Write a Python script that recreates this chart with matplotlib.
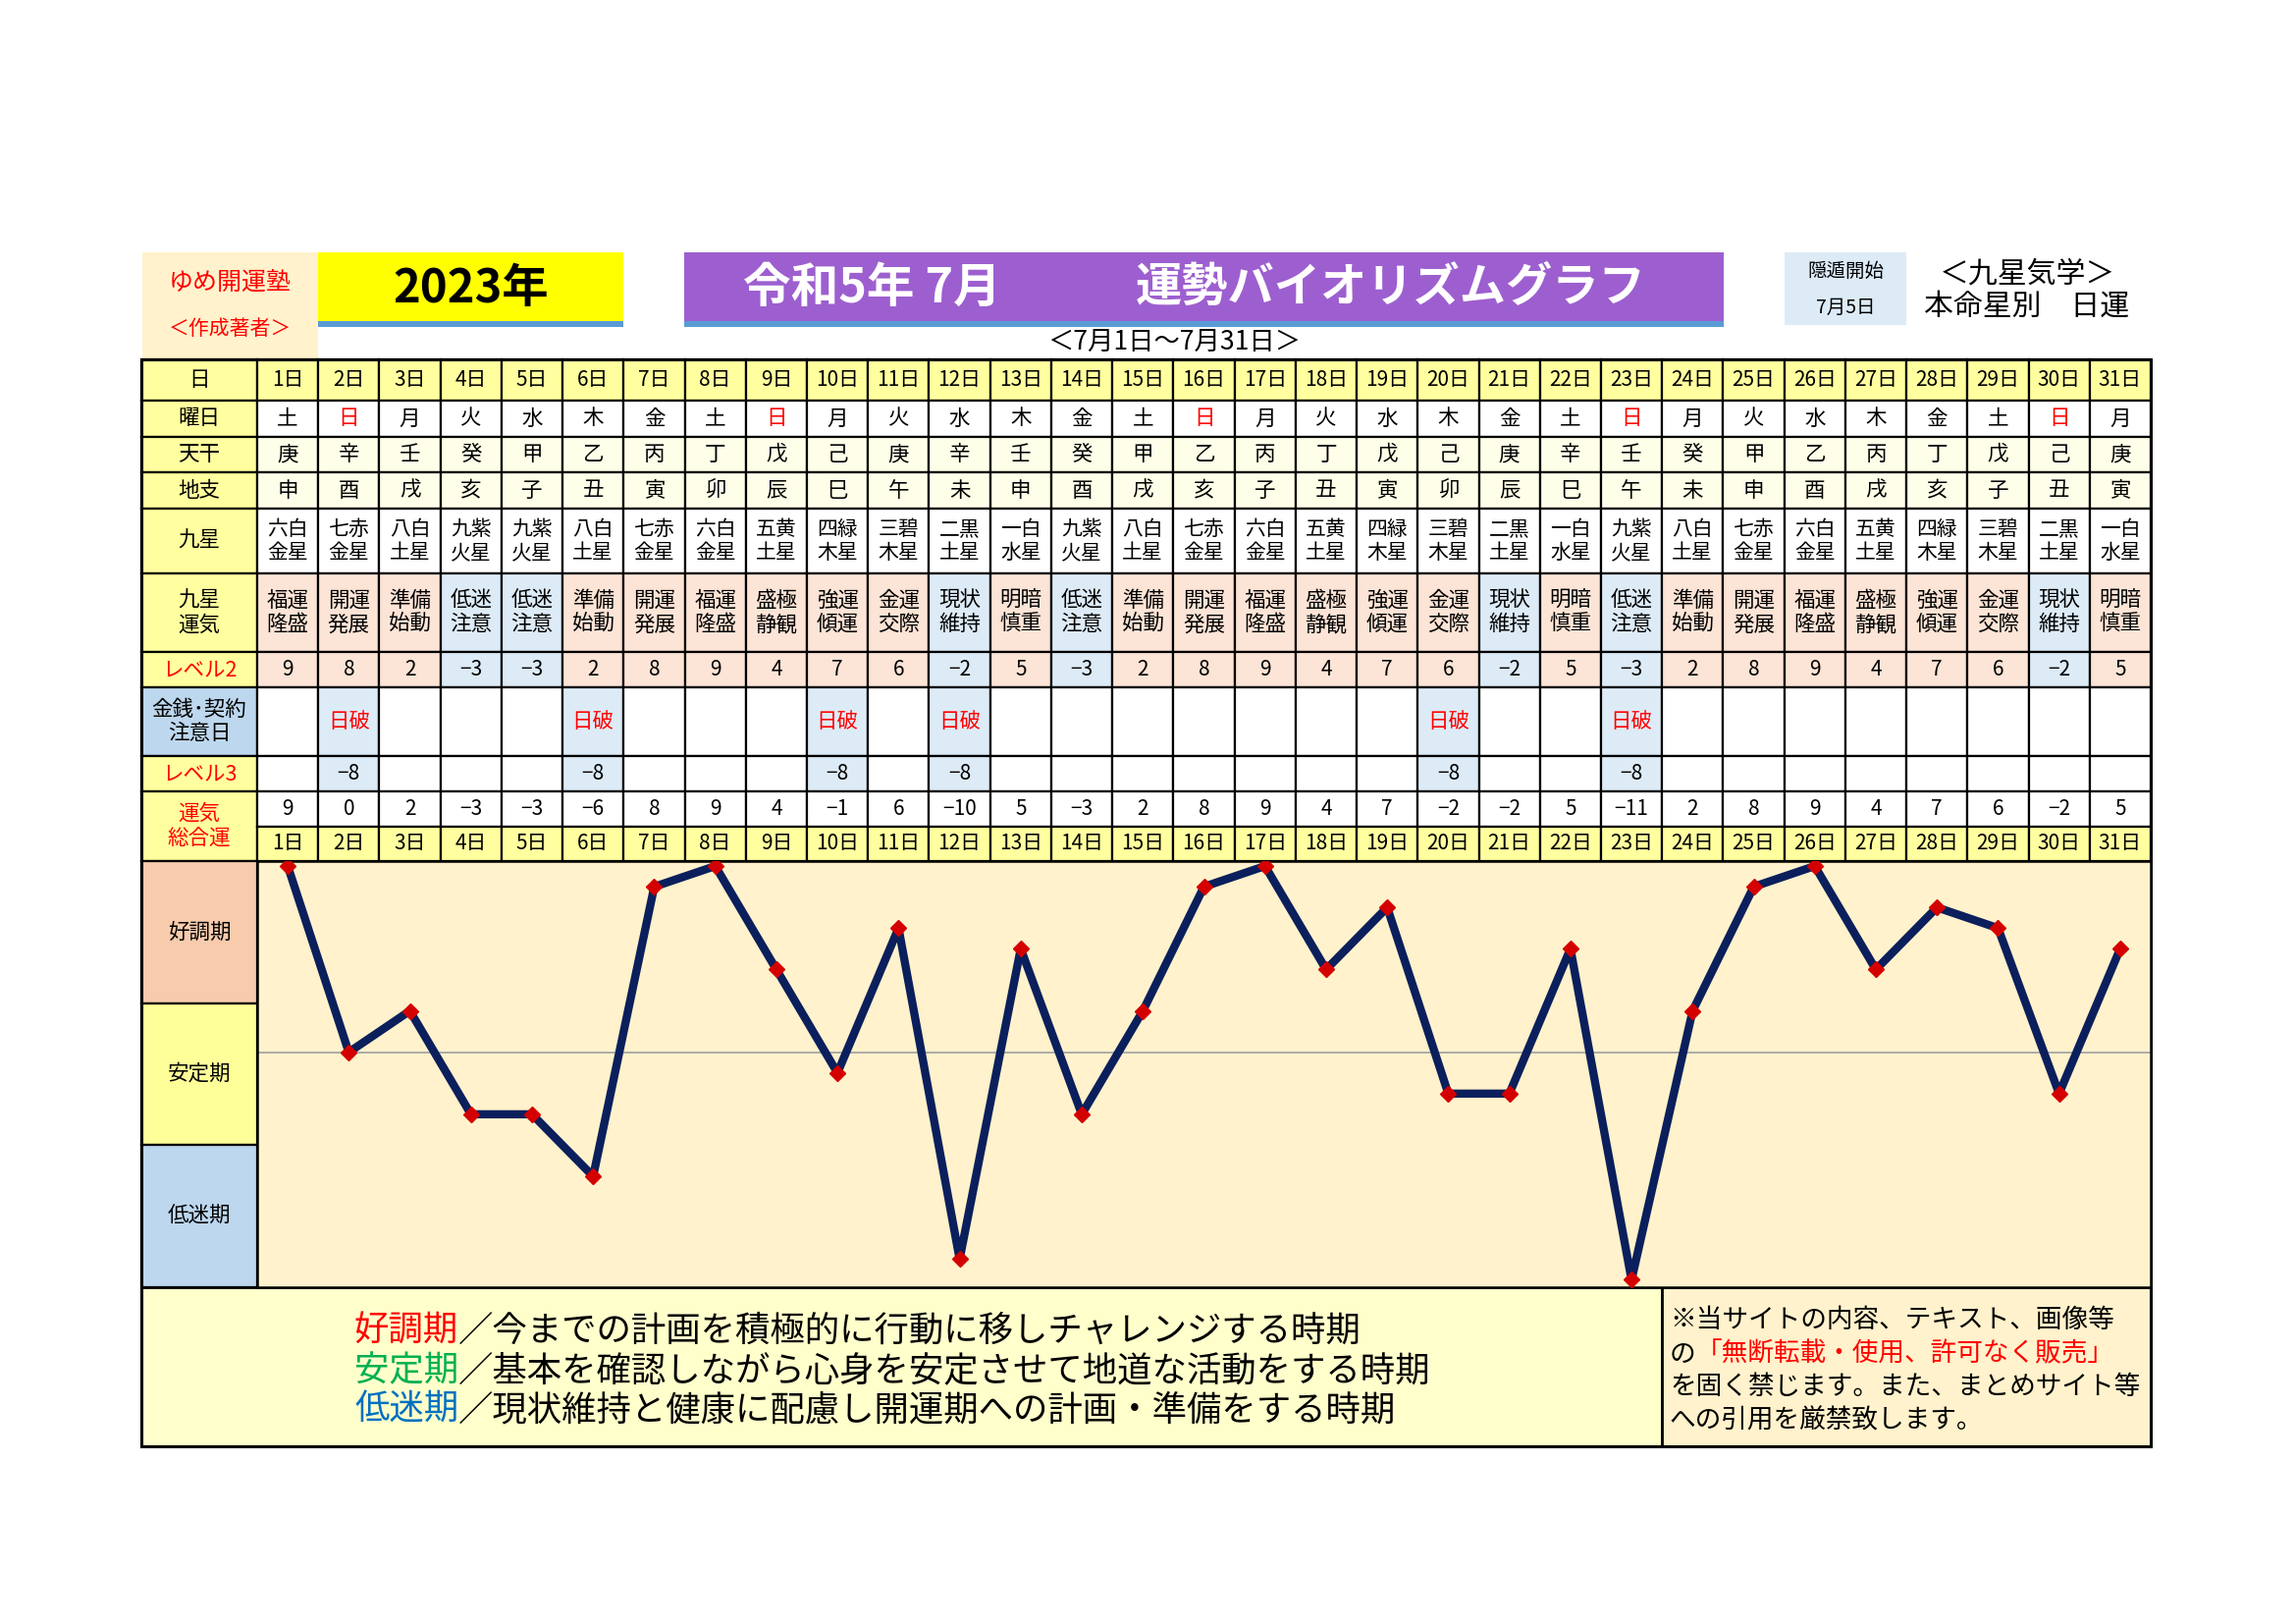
"""
九星気学 運勢バイオリズムグラフ (2023年7月) の再現
"""
import matplotlib
matplotlib.use('Agg')
import matplotlib.pyplot as plt
from matplotlib.patches import Rectangle

plt.rcParams['font.family'] = ['Noto Sans CJK JP', 'DejaVu Sans']

# ---- data ----
days = list(range(1, 32))
day_labels = [f'{d}日' for d in days]
weekdays = ['土', '日', '月', '火', '水', '木', '金', '土', '日', '月',
            '火', '水', '木', '金', '土', '日', '月', '火', '水', '木',
            '金', '土', '日', '月', '火', '水', '木', '金', '土', '日', '月']
tenkan = ['庚', '辛', '壬', '癸', '甲', '乙', '丙', '丁', '戊', '己',
          '庚', '辛', '壬', '癸', '甲', '乙', '丙', '丁', '戊', '己',
          '庚', '辛', '壬', '癸', '甲', '乙', '丙', '丁', '戊', '己', '庚']
chishi = ['申', '酉', '戌', '亥', '子', '丑', '寅', '卯', '辰', '巳',
          '午', '未', '申', '酉', '戌', '亥', '子', '丑', '寅', '卯',
          '辰', '巳', '午', '未', '申', '酉', '戌', '亥', '子', '丑', '寅']
kyusei = ['六白金星', '七赤金星', '八白土星', '九紫火星', '九紫火星', '八白土星',
          '七赤金星', '六白金星', '五黄土星', '四緑木星', '三碧木星', '二黒土星',
          '一白水星', '九紫火星', '八白土星', '七赤金星', '六白金星', '五黄土星',
          '四緑木星', '三碧木星', '二黒土星', '一白水星', '九紫火星', '八白土星',
          '七赤金星', '六白金星', '五黄土星', '四緑木星', '三碧木星', '二黒土星',
          '一白水星']
unki = ['福運隆盛', '開運発展', '準備始動', '低迷注意', '低迷注意', '準備始動',
        '開運発展', '福運隆盛', '盛極静観', '強運傾運', '金運交際', '現状維持',
        '明暗慎重', '低迷注意', '準備始動', '開運発展', '福運隆盛', '盛極静観',
        '強運傾運', '金運交際', '現状維持', '明暗慎重', '低迷注意', '準備始動',
        '開運発展', '福運隆盛', '盛極静観', '強運傾運', '金運交際', '現状維持',
        '明暗慎重']
level2 = [9, 8, 2, -3, -3, 2, 8, 9, 4, 7, 6, -2, 5, -3, 2, 8,
          9, 4, 7, 6, -2, 5, -3, 2, 8, 9, 4, 7, 6, -2, 5]
hiba_days = [2, 6, 10, 12, 20, 23]
level3 = [-8, -8, -8, -8, -8, -8]
total = [9, 0, 2, -3, -3, -6, 8, 9, 4, -1, 6, -10, 5, -3, 2, 8,
         9, 4, 7, -2, -2, 5, -11, 2, 8, 9, 4, 7, 6, -2, 5]
row_labels = ['日', '曜日', '天干', '地支', '九星', '九星\n運気', 'レベル2',
              '金銭･契約\n注意日', 'レベル3']
band_labels = ['好調期', '安定期', '低迷期']
notes = [('好調期', '／今までの計画を積極的に行動に移しチャレンジする時期', '#FF0000'),
         ('安定期', '／基本を確認しながら心身を安定させて地道な活動をする時期', '#00B050'),
         ('低迷期', '／現状維持と健康に配慮し開運期への計画・準備をする時期', '#0070C0')]

# ---- layout (pixels) ----
W, H = 2339, 1654
X0, XL, X1 = 144, 262, 2191
CW = (X1 - XL) / 31
ROWS = [366, 408, 445, 481, 518, 584, 664, 700, 770, 806, 842, 877]
CH_TOP, CH_BOT, BOX_BOT, DIV_X = 877, 1311, 1473, 1693

YEL = '#FFFF9F'
CREAM = '#FFFFE9'
PINK = '#FCE4D6'
LBLUE = '#DDEBF7'
BLUE = '#BDD7EE'

fig = plt.figure(figsize=(W / 100, H / 100), dpi=100)
lay = fig.add_axes([0, 0, 1, 1])
lay.set_xlim(0, W)
lay.set_ylim(H, 0)
lay.axis('off')


def box(x, y, w, h, fc, lw=1.6, ec='black'):
    lay.add_patch(Rectangle((x, y), w, h, facecolor=fc, edgecolor=ec, linewidth=lw))


def txt(x, y, s, fs=15, color='black', **kw):
    lay.text(x, y, s, fontsize=fs, color=color, ha=kw.pop('ha', 'center'),
             va=kw.pop('va', 'center'), **kw)


# ---- header ----
box(145, 257, 179, 109, '#FFF2CC', lw=0)
txt(234, 288, 'ゆめ開運塾', fs=18, color='#FF0000')
txt(234, 335, '＜作成著者＞', fs=15, color='#FF0000')

box(324, 257, 311, 70, '#FFFF00', lw=0)
box(324, 327, 311, 6, '#5B9BD5', lw=0)
txt(480, 294, '2023年', fs=34, weight='bold')

box(697, 257, 1059, 70, '#9D5FCF', lw=0)
box(697, 327, 1059, 6, '#5B9BD5', lw=0)
txt(757, 293, '令和5年 7月', fs=35, color='white', weight='bold', ha='left')
txt(1157, 293, '運勢バイオリズムグラフ', fs=34, color='white', weight='bold', ha='left')
txt(1196, 349, '＜7月1日～7月31日＞', fs=19)

box(1818, 257, 124, 74, LBLUE, lw=0)
txt(1880, 276, '隠遁開始', fs=14)
txt(1880, 313, '7月5日', fs=14)
txt(2065, 279, '＜九星気学＞', fs=21.5)
txt(2065, 312, '本命星別　日運', fs=21.5)

# ---- table ----
for r in range(9):
    y0, y1 = ROWS[r], ROWS[r + 1]
    lab_fc = BLUE if r == 7 else YEL
    box(X0, y0, XL - X0, y1 - y0, lab_fc)
    lab_color = '#FF0000' if r in (6, 8) else 'black'
    txt((X0 + XL) / 2, (y0 + y1) / 2, row_labels[r], fs=15.5, color=lab_color,
        linespacing=1.15)
# 運気総合運 label spans two rows
box(X0, ROWS[9], XL - X0, ROWS[11] - ROWS[9], YEL)
txt((X0 + XL) / 2, (ROWS[9] + ROWS[11]) / 2, '運気\n総合運', fs=15.5,
    color='#FF0000', linespacing=1.15)

for i, d in enumerate(days):
    x0 = XL + i * CW
    cx = x0 + CW / 2
    neg = level2[i] < 0
    hiba = d in hiba_days
    fcs = [YEL, 'white', CREAM, CREAM, 'white',
           LBLUE if neg else PINK, LBLUE if neg else PINK,
           LBLUE if hiba else 'white', LBLUE if hiba else 'white',
           'white', YEL]
    for r in range(11):
        box(x0, ROWS[r], CW, ROWS[r + 1] - ROWS[r], fcs[r])
    mid = [(ROWS[r] + ROWS[r + 1]) / 2 for r in range(11)]
    txt(cx, mid[0], day_labels[i], fs=15)
    txt(cx, mid[1], weekdays[i], fs=15.5, color='#FF0000' if weekdays[i] == '日' else 'black')
    txt(cx, mid[2], tenkan[i], fs=15.5)
    txt(cx, mid[3], chishi[i], fs=15.5)
    txt(cx, mid[4], kyusei[i][:2] + '\n' + kyusei[i][2:], fs=15, linespacing=1.12)
    txt(cx, mid[5], unki[i][:2] + '\n' + unki[i][2:], fs=15.5, linespacing=1.15)
    txt(cx, mid[6], str(level2[i]).replace('-', '−'), fs=15)
    if hiba:
        txt(cx, mid[7], '日破', fs=15.5, color='#FF0000')
        txt(cx, mid[8], str(level3[hiba_days.index(d)]).replace('-', '−'), fs=15)
    txt(cx, mid[9], str(total[i]).replace('-', '−'), fs=15)
    txt(cx, mid[10], day_labels[i], fs=15)

# ---- chart bands ----
band_colors = ['#F8CBAD', '#FFFF99', '#BDD7EE']
bh = (CH_BOT - CH_TOP) / 3
for k, (lab, c) in enumerate(zip(band_labels, band_colors)):
    yb = CH_TOP + k * bh
    box(X0, yb, XL - X0, bh, c)
    txt((X0 + XL) / 2, yb + bh / 2, lab, fs=15.5)

# ---- bottom notes ----
box(X0, CH_BOT, DIV_X - X0, BOX_BOT - CH_BOT, '#FFFFCC', lw=2)
box(DIV_X, CH_BOT, X1 - DIV_X, BOX_BOT - CH_BOT, '#FFF2CC', lw=2)
for k, (head, rest, col) in enumerate(notes):
    t = lay.text(361, 1356 + k * 40, head, fontsize=25.5, color=col, ha='left', va='center')
    lay.annotate(rest, xy=(1, 0), xycoords=t, fontsize=25.5, color='black',
                 ha='left', va='bottom')

LFS = 19.2
legal_y = [1345, 1379, 1413, 1447]
lay.text(1701, legal_y[0], '※当サイトの内容、テキスト、画像等', fontsize=LFS,
         ha='left', va='center')
t = lay.text(1701, legal_y[1], 'の', fontsize=LFS, ha='left', va='center')
lay.annotate('「無断転載・使用、許可なく販売」', xy=(1, 0), xycoords=t, fontsize=LFS,
             color='#FF0000', ha='left', va='bottom')
lay.text(1701, legal_y[2], 'を固く禁じます。また、まとめサイト等', fontsize=LFS,
         ha='left', va='center')
lay.text(1701, legal_y[3], 'への引用を厳禁致します。', fontsize=LFS,
         ha='left', va='center')

# outer frame of the table
lay.add_patch(Rectangle((X0, ROWS[0]), X1 - X0, BOX_BOT - ROWS[0], fill=False,
                        edgecolor='black', linewidth=2.2))

# ---- line chart ----
ax = fig.add_axes([XL / W, 1 - CH_BOT / H, (X1 - XL) / W, (CH_BOT - CH_TOP) / H])
ax.set_facecolor('#FFF2CC')
ax.axhline(0, color='#A6A6A6', linewidth=1.3, zorder=1)
ax.plot(days, total, color='#0B1F5C', linewidth=6, marker='D', markersize=8,
        markerfacecolor='#D40000', markeredgecolor='#D40000', zorder=3)
ax.set_xlim(0.5, 31.5)
ax.set_ylim(-11.36, 9.24)
ax.set_xticks([])
ax.set_yticks([])
for s in ax.spines.values():
    s.set_linewidth(1.8)
    s.set_color('black')

fig.savefig('out.png', dpi=100)
